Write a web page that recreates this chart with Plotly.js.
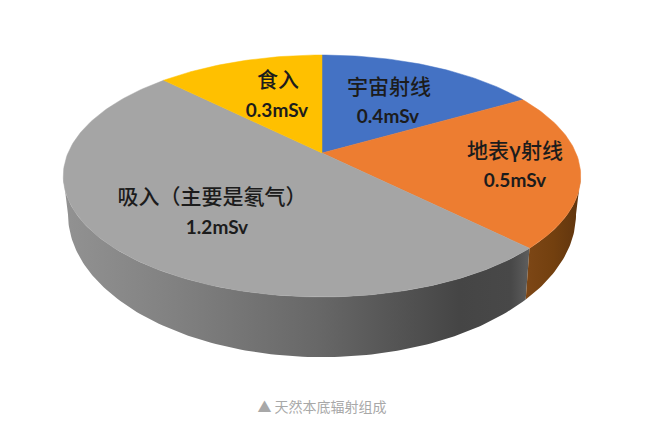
<!DOCTYPE html>
<html><head><meta charset="utf-8">
<script src="https://cdn.plot.ly/plotly-3.0.1.min.js"></script>
<style>html,body{margin:0;padding:0;background:#fff}#c{width:649px;height:436px}</style>
</head><body><div id="c"></div>
<script>
const categories = ["宇宙射线","地表γ射线","吸入（主要是氡气）","食入"];
const doseValues = [0.4,0.5,1.2,0.3];
const doseLabels = ["0.4mSv","0.5mSv","1.2mSv","0.3mSv"];
const sliceColors = ["#4472C4","#ED7D31","#A5A5A5","#FFC000"];
const nameX = [389,515,212,278], nameY = [89,153,199,82];
const valueX = [388,515,217,277], valueY = [118,182,229,112];
const caption = "▲ 天然本底辐射组成";

const k = 0.19;
const topRim = {cx:322, y0:153, R:254, H:116.6};
const botRim = {cx:322, y0:187, R:249.4, H:137.8};
function pt(r, deg){
  const t = deg*Math.PI/180, u = Math.sin(t), v = Math.cos(t), w = 1+k*v;
  return [r.cx + r.R*u/w, r.y0 - r.H*v/w];
}
function arc(r, a, b){
  const n = Math.max(2, Math.ceil(Math.abs(b-a))), out = [];
  for(let i=0;i<=n;i++) out.push(pt(r, a+(b-a)*i/n));
  return out;
}
const total = doseValues.reduce((s,v)=>s+v,0);
let acc = 0;
const spans = doseValues.map(v=>{const a=acc/total*360; acc+=v; return [a, acc/total*360];});

const silhouette = Math.acos(-k)*180/Math.PI;
function wall(a,b,stops){
  const p = arc(topRim,a,b).concat(arc(botRim,b,a));
  p.push(p[0]);
  return {type:"scatter",mode:"lines",x:p.map(q=>q[0]),y:p.map(q=>q[1]),
    line:{width:0},fill:"toself",hoverinfo:"skip",showlegend:false,
    fillcolor:stops[0][1],
    fillgradient:{type:"horizontal",colorscale:stops}};
}
const grayWallStops = [[0,"#929292"],[0.25,"#808080"],[0.55,"#676767"],[0.85,"#454545"],[0.96,"#484848"],[1,"#5e5e5e"]];
const orangeWallStops = [[0,"#7d4716"],[0.5,"#73400f"],[1,"#5f340e"]];
const traces = [];
traces.push(wall(spans[1][1],360-silhouette,grayWallStops));
traces.push(wall(silhouette,spans[1][1],orangeWallStops));
spans.forEach((s,i)=>{
  const p = [[topRim.cx,topRim.y0]].concat(arc(topRim,s[0],s[1]));
  p.push(p[0]);
  traces.push({type:"scatter",mode:"lines",x:p.map(q=>q[0]),y:p.map(q=>q[1]),
    line:{width:0.5,color:sliceColors[i]},fill:"toself",fillcolor:sliceColors[i],
    hoverinfo:"skip",showlegend:false});
});
traces.push({type:"scatter",mode:"text",x:nameX,y:nameY,text:categories,textposition:"middle center",
  textfont:{family:"Noto Sans CJK SC",size:21,color:"#1c1c1c",weight:500},hoverinfo:"skip",showlegend:false});
traces.push({type:"scatter",mode:"text",x:valueX,y:valueY,text:doseLabels,textposition:"middle center",
  textfont:{family:"Lato",size:19,color:"#1c1c1c",weight:700},hoverinfo:"skip",showlegend:false});
traces.push({type:"scatter",mode:"text",x:[322],y:[408],text:[caption],textposition:"middle center",
  textfont:{family:"Noto Sans CJK SC",size:14,color:"#a8a8a8"},hoverinfo:"skip",showlegend:false});

Plotly.newPlot("c",traces,{
  width:649,height:436,margin:{l:0,r:0,t:0,b:0},
  paper_bgcolor:"#fff",plot_bgcolor:"#fff",showlegend:false,
  xaxis:{range:[0,649],visible:false,fixedrange:true},
  yaxis:{range:[436,0],visible:false,fixedrange:true}
},{displayModeBar:false,staticPlot:true});
</script></body></html>
